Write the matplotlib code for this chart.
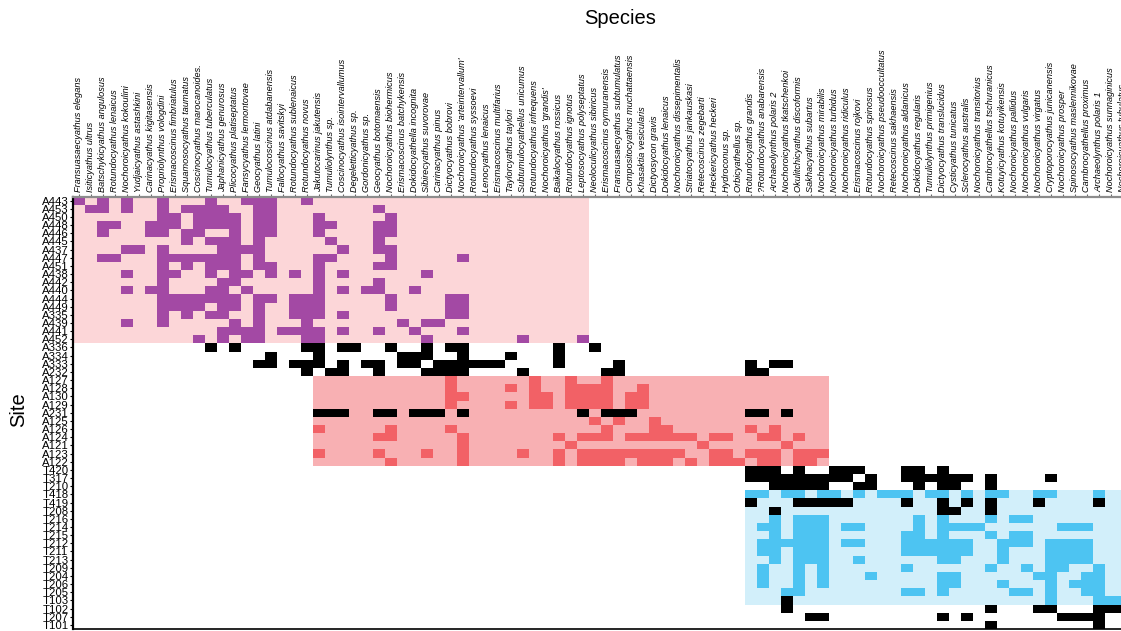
import numpy as np
import matplotlib
matplotlib.use("Agg")
import matplotlib.pyplot as plt
from matplotlib.colors import ListedColormap

plt.rcParams['font.family'] = ['Liberation Sans', 'DejaVu Sans']

species = [
    "Fransuasaecyathus elegans", "Isiticyathus ultrus", "Batschykicyathus angulosus",
    "Rotundocyathus lenaicus", "Nochoroicyathus kokoulini", "Yudjaicyathus astashkini",
    "Carinacyathus kigitasensis", "Propriolynthus vologdini", "Erismacoscinus fimbriatulus",
    "Squamosocyathus taumatus", "Coscinocyathus marocanoides.", "Tumulocyathus tuberculatus",
    "Japhanicyathus genurosus", "Plicocyathus platiseptatus", "Fansycyathus lermontovae",
    "Geocyathus latini", "Tumulocoscinus atdabanensis", "Fallocyathus savitskyi",
    "Rotundocyathus sublenaicus", "Rotundocyathus novus", "Jakutocarinus jakutensis",
    "Tumuliolynthus sp.", "Coscinocyathus isointervallumus", "Degeletticyathus sp.",
    "Gordonicyathus sp.", "Geocyathus botomaensis", "Nochoroicyathus biohermicus",
    "Erismacoscinus batchykensis", "Dokidocyathella incognita", "Sibirecyathus suvorovae",
    "Carinacyathus pinus", "Dictyocyathus bobrovi", "Nochoroicyathus 'arteintervallum'",
    "Rotundocyathus syssoevi", "Lenocyathus lenaicus", "Erismacoscinus multifarius",
    "Taylorcyathus taylori", "Subtumulocyathellus unicumus", "Rotundocyathus infrequens",
    "Nochoroicyathus 'grandis'", "Baikalocyathus rossicus", "Rotundocyathus ignotus",
    "Leptosocyathus polyseptatus", "Neoloculicyathus sibiricus", "Erismacoscinus oymuranensis",
    "Fransuasaecyathus subtumulatus", "Compositocyathus muchattaensis", "Khasaktia vesicularis",
    "Dictyosycon gravis", "Dokidocyathus lenaicus", "Nochoroicyathus dissepimentalis",
    "Striatocyathus jankauskasi", "Retecoscinus zegebarti", "Heckericyathus heckeri",
    "Hydroconus sp.", "Orbicyathellus sp.", "Rotundocyathus grandis",
    "?Rotundocyathus anabarensis", "Archaeolynthus polaris 2", "Nochoroicyathus tkatschenkoi",
    "Okulitchicyathus discoformis", "Sakhacyathus subartus", "Nochoroicyathus mirabilis",
    "Nochoroicyathus turbidus", "Nochoroicyathus ridiculus", "Erismacoscinus rojkovi",
    "Rotundocyathus spinosus", "Nochoroicyathus pseudooccultatus", "Retecoscinus sakhaensis",
    "Nochoroicyathus aldanicus", "Dokidocyathus regularis", "Tumuliolynthus primigenius",
    "Dictyocyathus translucidus", "Cysticyathus tunicatus", "Sclerocyathus australis",
    "Nochoroicyathus transitorius", "Cambrocyathellus tschuranicus", "Kotuyicyathus kotuyikensis",
    "Nochoroicyathus pallidus", "Nochoroicyathus vulgaris", "Nochoroicyathus virgatus",
    "Cryptoporocyathus junicanensis", "Nochoroicyathus prosper", "Spinosocyathus maslennikovae",
    "Cambrocyathellus proximus", "Archaeolynthus polaris 1", "Nochoroicyathus sunnaginicus",
    "Nochoroicyathus tubulatus",
]

sites = [
    "A443", "A453", "A450", "A448", "A446", "A445", "A437", "A447", "A451", "A438",
    "A442", "A440", "A444", "A449", "A335", "A439", "A441", "A452",
    "A336", "A334", "A333", "A232",
    "A127", "A128", "A130", "A129", "A231", "A125", "A126", "A124", "A121", "A123", "A122",
    "T420", "T317", "T210",
    "T418", "T419", "T208", "T216", "T214", "T215", "T212", "T211", "T213", "T209",
    "T204", "T206", "T205", "T103",
    "T102", "T207", "T101",
]

# cluster blocks: member sites and species index range (first, last)
purple_sites = sites[0:18]
purple_species = (0, 42)
red_sites = sites[22:33]
red_species = (20, 62)
blue_sites = sites[36:50]
blue_species = (56, 87)

# occurrences drawn in the cluster colour
purple_hits = {
    "A443": [0, 2, 4, 7, 11, 14, 15, 16, 19],
    "A453": [1, 2, 4, 7, 9, 10, 11, 12, 15, 16, 25],
    "A450": [7, 8, 10, 11, 12, 13, 15, 16, 20, 26],
    "A448": [2, 3, 6, 7, 8, 10, 11, 12, 13, 15, 16, 20, 21, 25, 26],
    "A446": [2, 6, 7, 9, 10, 13, 15, 16, 20, 25, 26],
    "A445": [9, 11, 12, 13, 15, 21, 25],
    "A437": [4, 5, 7, 12, 13, 14, 15, 22, 25, 26],
    "A447": [2, 3, 7, 8, 9, 10, 11, 12, 13, 15, 20, 21, 26, 32],
    "A451": [7, 9, 11, 12, 13, 15, 16, 20, 25, 26],
    "A438": [4, 7, 8, 11, 13, 14, 16, 18, 20, 22, 29],
    "A442": [7, 12, 13, 20, 25],
    "A440": [4, 6, 7, 11, 12, 14, 20, 22, 24, 25, 28],
    "A444": [7, 8, 9, 10, 11, 12, 13, 15, 16, 18, 19, 20, 26, 31, 32],
    "A449": [7, 8, 9, 10, 12, 13, 15, 18, 19, 20, 26, 31, 32],
    "A335": [7, 9, 11, 12, 15, 18, 19, 20, 22, 31, 32],
    "A439": [4, 7, 13, 15, 19, 27, 29, 30],
    "A441": [12, 13, 14, 15, 17, 18, 19, 20, 22, 25, 28, 32],
    "A452": [10, 12, 14, 15, 19, 20, 29, 37, 42],
}

red_hits = {
    "A127": [31, 38, 41, 44],
    "A128": [31, 36, 38, 41, 42, 43, 44, 47],
    "A130": [31, 32, 38, 39, 41, 42, 43, 44, 46, 47],
    "A129": [31, 36, 38, 39, 41, 42, 43, 44, 46, 47],
    "A125": [43, 45, 48],
    "A126": [20, 26, 31, 44, 48, 49, 56, 58],
    "A124": [25, 26, 32, 40, 42, 43, 44, 46, 47, 48, 49, 50, 51, 53, 54, 57, 58, 60],
    "A121": [32, 41, 52, 59],
    "A123": [20, 25, 29, 32, 37, 40, 42, 43, 44, 45, 46, 47, 48, 49, 50, 53, 54,
             56, 57, 58, 60, 61, 62],
    "A122": [26, 32, 40, 42, 43, 44, 45, 47, 48, 49, 51, 53, 54, 55, 57, 58, 60, 61],
}

blue_hits = {
    "T418": [56, 57, 59, 60, 62, 63, 65, 67, 68, 69, 71, 72, 74, 76, 77, 80, 81, 85],
    "T216": [58, 60, 61, 62, 70, 72, 76, 78, 79],
    "T214": [57, 58, 60, 61, 62, 64, 65, 70, 72, 73, 74, 75, 82, 83, 84],
    "T215": [58, 60, 61, 62, 69, 70, 72, 76, 78, 79],
    "T212": [57, 58, 59, 60, 61, 62, 64, 65, 69, 70, 71, 72, 73, 74, 77, 78, 79,
             81, 82, 83, 84],
    "T211": [57, 58, 60, 61, 62, 69, 70, 71, 72, 73, 74, 77, 81, 82, 83, 84],
    "T213": [58, 60, 61, 62, 65, 72, 73, 77, 81, 82, 83, 84],
    "T209": [57, 60, 62, 69, 76, 79, 81, 82, 85],
    "T204": [57, 60, 62, 66, 72, 73, 80, 81, 84, 85],
    "T206": [57, 60, 62, 72, 73, 77, 81, 83, 84, 85],
    "T205": [59, 60, 69, 70, 72, 78, 79, 81, 84, 85],
    "T103": [81, 85, 86, 87],
}

# occurrences drawn in black
black_hits = {
    "A336": [11, 13, 19, 20, 22, 23, 26, 29, 31, 32, 40, 43],
    "A334": [16, 20, 27, 28, 29, 32, 36, 40],
    "A333": [15, 16, 18, 19, 20, 22, 24, 25, 27, 28, 30, 31, 32, 33, 34, 35,
             40, 45, 56, 58, 59],
    "A232": [19, 21, 22, 25, 29, 30, 31, 32, 37, 44, 45, 56, 57],
    "A231": [20, 21, 22, 25, 26, 28, 29, 30, 32, 42, 44, 45, 46, 56, 57, 59],
    "T420": [56, 57, 58, 60, 63, 64, 65, 69, 70, 72],
    "T317": [56, 57, 58, 59, 60, 61, 62, 63, 64, 66, 69, 70, 71, 72, 73, 74, 76, 81],
    "T210": [58, 59, 60, 61, 62, 65, 66, 70, 72, 73, 76],
    "T419": [56, 60, 61, 62, 63, 64, 69, 72, 74, 76, 80, 85],
    "T208": [58, 72, 73, 76],
    "T103": [59],
    "T102": [59, 76, 80, 81, 85, 86, 87],
    "T207": [61, 62, 72, 74, 82, 83, 84, 85],
    "T101": [76, 85],
}

colors = ['#FFFFFF', '#FCD6D8', '#A349A4', '#F8B0B3', '#F26166',
          '#D2EFFA', '#4DC4F2', '#000000']

grid = np.zeros((len(sites), len(species)))
blocks = [(purple_sites, purple_species, 1, purple_hits),
          (red_sites, red_species, 3, red_hits),
          (blue_sites, blue_species, 5, blue_hits)]
for blk_sites, (c0, c1), code, hits in blocks:
    for s in blk_sites:
        grid[sites.index(s), c0:c1 + 1] = code
    for s, cols in hits.items():
        grid[sites.index(s), cols] = code + 1
for s, cols in black_hits.items():
    grid[sites.index(s), cols] = 7

fig = plt.figure(figsize=(11.21, 6.31), dpi=100)
ax = fig.add_axes([72.5 / 1121, 2 / 631, 1056 / 1121, 432.5 / 631])

ax.pcolormesh(np.arange(len(species) + 1), np.arange(len(sites) + 1), grid,
              cmap=ListedColormap(colors), vmin=-0.5, vmax=7.5)
ax.set_xlim(0, len(species))
ax.set_ylim(len(sites), 0)

ax.xaxis.tick_top()
ax.set_xticks(np.arange(len(species)) + 0.5)
ax.set_xticklabels(species, rotation=90, fontstyle='italic', fontsize=6.6)
ax.set_yticks(np.arange(len(sites)) + 0.5)
ax.set_yticklabels(sites, fontsize=8.2)
ax.tick_params(axis='x', length=2.5, width=0.8, pad=1, color='#666666')
ax.tick_params(axis='y', length=2, width=0.8, pad=1)

ax.spines['top'].set_color('#8c8c8c')
ax.spines['top'].set_linewidth(1.6)
ax.spines['left'].set_linewidth(1.6)
ax.spines['bottom'].set_linewidth(1.2)
ax.spines['right'].set_visible(False)

fig.text(620 / 1121, 1 - 19 / 631, 'Species', ha='center', va='center', fontsize=14.5)
fig.text(19 / 1121, 1 - 410 / 631, 'Site', ha='center', va='center',
         rotation=90, fontsize=14.5)

fig.savefig('out.png', dpi=100)
